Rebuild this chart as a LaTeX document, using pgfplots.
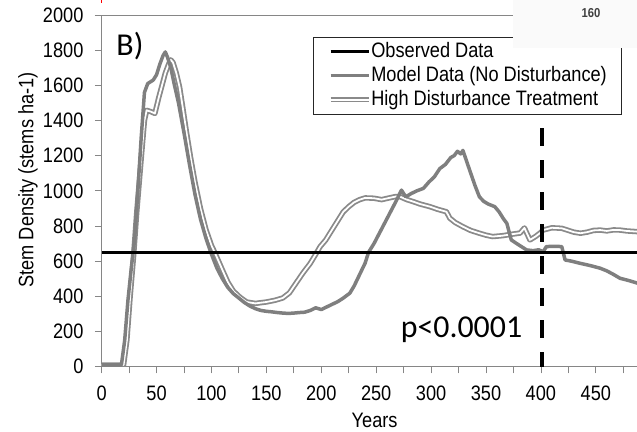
\documentclass[border=0pt]{standalone}
\usepackage{fontspec}
\setmainfont{Liberation Sans}[FakeStretch=0.87]
\newfontfamily\calibri{Carlito}
\usepackage{pgfplots}
\pgfplotsset{compat=1.18}
\usetikzlibrary{calc}
\definecolor{axgray}{HTML}{868686}
\definecolor{modgray}{HTML}{7F7F7F}
\definecolor{hdgray}{HTML}{8A8A8A}
\begin{document}
\begin{tikzpicture}
\begin{axis}[
  name=ax, scale only axis, width=535.8bp, height=352bp,
  xmin=0, xmax=487.5, ymin=0, ymax=2000,
  axis lines=left, axis line style={-, axgray, line width=0.8bp},
  tick align=outside, major tick length=6.7bp, minor tick length=6.7bp,
  tick style={axgray, line width=0.8bp},
  xtick distance=50, minor x tick num=1, ytick distance=200,
  /pgf/number format/assume math mode=true,
  /pgf/number format/1000 sep={},
  tick label style={font=\fontsize{21}{24}\selectfont, text=black},
  yticklabel style={xshift=-8bp},
  xticklabel style={yshift=-9bp},
  every axis y label/.style={at={(rel axis cs:0,0.531)}, xshift=-73.7bp, rotate=90, anchor=center},
  every axis x label/.style={at={(rel axis cs:0.51,0)}, anchor=center, yshift=-54bp},
  label style={font=\fontsize{21}{24}\selectfont},
  xlabel={Years}, ylabel={Stem Density (stems ha-1)},
  legend image code/.code={\draw[#1] (0bp,0bp) -- (38bp,0bp);},
  legend cell align=left,
  legend style={at={(rel axis cs:0.394,0.938)}, anchor=north west,
    draw=black!85, line width=0.8bp, fill=white,
    inner xsep=15bp, inner ysep=5bp,
    font=\fontsize{21}{24}\selectfont,
    nodes={inner sep=0pt, text height=15bp, text depth=4bp},
    row sep=5bp,
    /tikz/every even column/.append style={column sep=2bp}},
  clip=true,
]
\addlegendimage{black, line width=3bp}
\addlegendentry{Observed Data}
\addlegendimage{modgray, line width=3.5bp}
\addlegendentry{Model Data (No Disturbance)}
\addlegendimage{hdgray, line width=1.8bp, double=white, double distance=1.8bp}
\addlegendentry{High Disturbance Treatment}

% High disturbance treatment
\addplot[forget plot, hdgray, line width=1.8bp, double=white, double distance=1.8bp, line join=round] coordinates {
(0,10)(20,10)(23,150)(26,400)(29,620)(32,880)(36,1180)(39,1400)(41,1458)(45,1450)(48.5,1440)(52,1530)(55,1600)(58,1670)(61,1720)(63,1745)(65,1730)(68,1670)(71,1590)(74,1470)(77,1345)(81,1190)(85,1050)(90,900)(95,780)(100,690)(103,650)(110,550)(115,480)(120,430)(126,395)(132,368)(140,360)(150,368)(158,378)(165,391)(171,420)(177,475)(183,530)(190,588)(195,640)(199,683)(204,720)(208,760)(215,830)(220,880)(225,910)(230,935)(235,950)(240,960)(248,958)(255,950)(262,960)(268,968)(272,966)(278,950)(284,938)(290,925)(299,910)(306,895)(314,881)(317,845)(322,820)(329,796)(336,775)(344,759)(350,748)(356,740)(365,745)(372,752)(381,760)(385,789)(390,721)(395,740)(399,759)(402,777)(410,790)(419,787)(425,775)(430,765)(436,759)(442,765)(448,775)(454,777)(460,772)(466,778)(472,777)(478,772)(488,768)
};
% Model data (no disturbance)
\addplot[forget plot, modgray, line width=3.5bp, line join=round] coordinates {
(0,10)(18,10)(21,150)(24,380)(27,560)(30,720)(33,1000)(36,1300)(39,1560)(42,1610)(47,1630)(50,1660)(53,1720)(56,1770)(58,1790)(60,1760)(63,1700)(66,1610)(70,1500)(75,1330)(80,1150)(85,980)(90,840)(95,730)(100,640)(105,560)(110,500)(115,450)(120,415)(125,390)(130,365)(135,345)(140,330)(145,320)(150,315)(155,312)(160,308)(165,305)(170,303)(175,305)(180,308)(185,310)(190,320)(195,335)(200,325)(205,340)(210,355)(215,370)(220,390)(226,418)(230,460)(235,525)(240,590)(243,650)(248,700)(253,760)(258,820)(263,880)(268,940)(273,1004)(277,966)(282,985)(287,1000)(293,1014)(298,1050)(303,1080)(308,1127)(313,1150)(318,1190)(321,1200)(324,1225)(327,1210)(329,1230)(331,1193)(335,1120)(340,1030)(344,966)(348,940)(352,925)(358,910)(362,880)(366,840)(369,815)(373,721)(378,700)(383,680)(387,664)(393,660)(398,665)(402,654)(405,683)(412,685)(419,683)(422,607)(428,600)(435,589)(445,575)(454,560)(460,545)(466,525)(472,503)(480,490)(488,475)
};
% Observed data
\addplot[forget plot, black, line width=3bp] coordinates {(0,650)(487.5,650)};
% Year 400 marker
\addplot[forget plot, black, line width=4bp, dash pattern=on 18bp off 14bp] coordinates {(401,1355)(401,0)};

\node[font=\calibri\fontsize{32}{36}\selectfont, anchor=center] at (axis cs:25.8,1822) {B)};
\node[font=\calibri\fontsize{32}{36}\selectfont, anchor=center] at (axis cs:327.7,210) {p<0.0001};
\end{axis}
\draw[axgray, line width=0.8bp] ($(ax.north west)+(-6.7bp,0)$) -- (ax.north east);
\fill[black!2] ($(ax.north east)+(-124bp,15bp)$) rectangle ($(ax.north east)+(0,-33bp)$);
\node[font=\fontsize{13}{14}\selectfont\bfseries, text=black!75] at ($(ax.north east)+(-46bp,2bp)$) {160};
\draw[red, line width=1.5bp] ($(ax.north west)+(0,15bp)$) -- ++(0,-3bp);
\pgfresetboundingbox
\path[use as bounding box] ($(ax.south west)+(-101.7bp,-65bp)$) rectangle ($(ax.north east)+(0,15bp)$);
\end{tikzpicture}
\end{document}
